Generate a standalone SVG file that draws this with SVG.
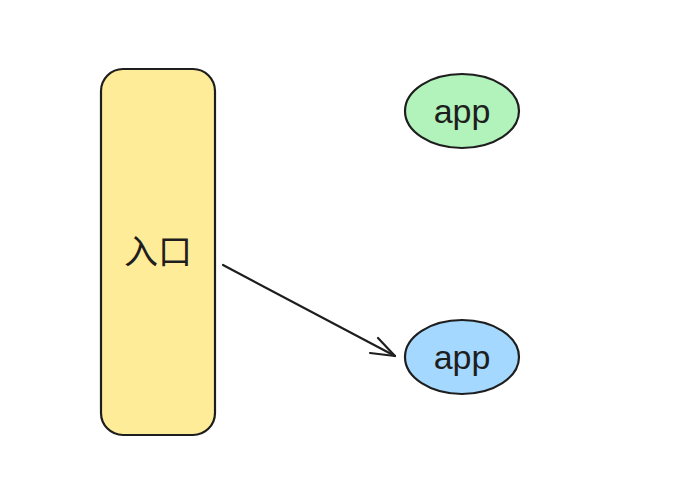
<svg xmlns="http://www.w3.org/2000/svg" width="689" height="483" viewBox="0 0 689 483">
<style>
.s{stroke:#1e1e1e;stroke-width:2.2;stroke-linecap:round;stroke-linejoin:round}
.t{font-family:"Liberation Sans","Noto Sans CJK SC",sans-serif;font-size:34px;fill:#1e1e1e;text-anchor:middle;dominant-baseline:central}
</style>
<rect width="689" height="483" fill="#ffffff"/>
<g id="entry">
<rect class="s" x="101" y="69" width="114" height="366" rx="22" fill="#ffec99"/>
<text class="t" x="158" y="252">入口</text>
</g>
<g id="app1">
<ellipse class="s" cx="462" cy="111" rx="57" ry="37" fill="#b2f2bb"/>
<text class="t" x="462" y="111">app</text>
</g>
<g id="app2">
<ellipse class="s" cx="462" cy="357" rx="57" ry="37" fill="#a5d8ff"/>
<text class="t" x="462" y="357">app</text>
</g>
<g id="connectors" fill="none">
<path class="s" d="M223 265 L395 356"/>
<path class="s" d="M378 338 L395 356 L370 353"/>
</g>
</svg>
